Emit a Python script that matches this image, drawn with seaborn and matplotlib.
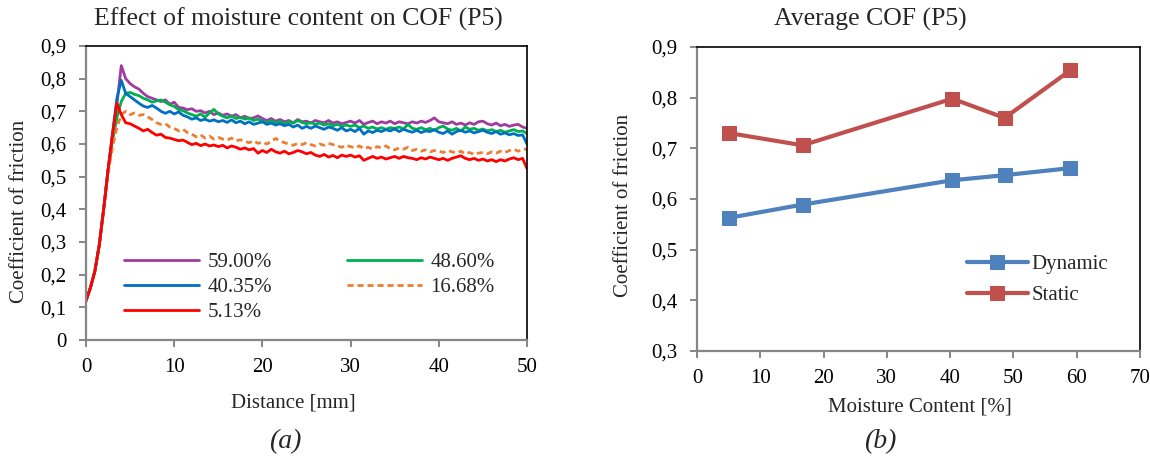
import numpy as np
import pandas as pd
import matplotlib
matplotlib.use("Agg")
import matplotlib.pyplot as plt
import seaborn as sns
from matplotlib.ticker import FixedLocator, FuncFormatter

# ---------------- data ----------------
distance = [i * 0.5 for i in range(101)]  # mm, 0 .. 50

mc_590 = [0.12, 0.16, 0.21, 0.29, 0.40, 0.52, 0.62, 0.72, 0.84, 0.80,
          0.785, 0.775, 0.768, 0.755, 0.745, 0.740, 0.735, 0.730, 0.735, 0.722,
          0.728, 0.712, 0.710, 0.705, 0.708, 0.700, 0.702, 0.695, 0.700, 0.690,
          0.695, 0.688, 0.692, 0.685, 0.690, 0.680, 0.685, 0.678, 0.680, 0.686,
          0.678, 0.672, 0.678, 0.670, 0.675, 0.668, 0.672, 0.665, 0.675, 0.668,
          0.670, 0.664, 0.672, 0.668, 0.665, 0.672, 0.664, 0.668, 0.662, 0.666,
          0.670, 0.664, 0.672, 0.660, 0.666, 0.670, 0.662, 0.668, 0.664, 0.670,
          0.662, 0.668, 0.665, 0.662, 0.668, 0.664, 0.670, 0.666, 0.672, 0.680,
          0.668, 0.665, 0.662, 0.668, 0.660, 0.664, 0.658, 0.665, 0.660, 0.668,
          0.670, 0.662, 0.658, 0.664, 0.656, 0.660, 0.654, 0.658, 0.660, 0.652,
          0.648]

mc_486 = [0.12, 0.16, 0.21, 0.29, 0.40, 0.52, 0.61, 0.68, 0.73, 0.755,
          0.758, 0.752, 0.748, 0.740, 0.735, 0.728, 0.732, 0.735, 0.728, 0.720,
          0.715, 0.705, 0.702, 0.695, 0.690, 0.685, 0.692, 0.682, 0.695, 0.706,
          0.692, 0.685, 0.680, 0.686, 0.678, 0.682, 0.676, 0.680, 0.672, 0.676,
          0.670, 0.666, 0.672, 0.664, 0.670, 0.662, 0.668, 0.664, 0.672, 0.666,
          0.662, 0.666, 0.660, 0.664, 0.658, 0.662, 0.656, 0.660, 0.655, 0.658,
          0.654, 0.658, 0.650, 0.655, 0.648, 0.652, 0.646, 0.650, 0.645, 0.650,
          0.648, 0.652, 0.646, 0.660, 0.648, 0.645, 0.650, 0.644, 0.648, 0.642,
          0.650, 0.655, 0.646, 0.642, 0.648, 0.640, 0.652, 0.645, 0.648, 0.642,
          0.646, 0.640, 0.644, 0.638, 0.642, 0.636, 0.640, 0.644, 0.638, 0.640,
          0.632]

mc_4035 = [0.12, 0.16, 0.21, 0.29, 0.40, 0.52, 0.63, 0.74, 0.795, 0.755,
           0.745, 0.735, 0.725, 0.716, 0.712, 0.718, 0.710, 0.700, 0.694, 0.700,
           0.692, 0.698, 0.688, 0.683, 0.676, 0.680, 0.672, 0.676, 0.670, 0.674,
           0.668, 0.672, 0.666, 0.674, 0.665, 0.670, 0.662, 0.668, 0.660, 0.664,
           0.668, 0.660, 0.664, 0.658, 0.662, 0.656, 0.660, 0.652, 0.658, 0.648,
           0.654, 0.648, 0.655, 0.650, 0.645, 0.652, 0.648, 0.642, 0.650, 0.640,
           0.645, 0.638, 0.648, 0.630, 0.640, 0.635, 0.642, 0.638, 0.644, 0.640,
           0.646, 0.638, 0.645, 0.640, 0.636, 0.642, 0.635, 0.640, 0.638, 0.644,
           0.636, 0.632, 0.640, 0.630, 0.638, 0.642, 0.636, 0.640, 0.634, 0.638,
           0.642, 0.636, 0.632, 0.638, 0.630, 0.634, 0.628, 0.632, 0.626, 0.628,
           0.600]

mc_1668 = [0.12, 0.16, 0.21, 0.29, 0.40, 0.51, 0.59, 0.65, 0.69, 0.700,
           0.690, 0.695, 0.688, 0.690, 0.683, 0.675, 0.665, 0.660, 0.662, 0.652,
           0.648, 0.640, 0.645, 0.635, 0.630, 0.622, 0.628, 0.618, 0.624, 0.615,
           0.620, 0.615, 0.612, 0.618, 0.610, 0.613, 0.608, 0.604, 0.610, 0.602,
           0.606, 0.600, 0.608, 0.617, 0.610, 0.604, 0.600, 0.596, 0.602, 0.598,
           0.604, 0.598, 0.594, 0.600, 0.596, 0.602, 0.598, 0.594, 0.590, 0.596,
           0.592, 0.588, 0.594, 0.586, 0.590, 0.584, 0.592, 0.588, 0.594, 0.586,
           0.582, 0.588, 0.584, 0.590, 0.580, 0.584, 0.578, 0.582, 0.576, 0.580,
           0.578, 0.574, 0.580, 0.576, 0.572, 0.578, 0.570, 0.574, 0.568, 0.572,
           0.574, 0.570, 0.576, 0.572, 0.578, 0.574, 0.580, 0.584, 0.578, 0.582,
           0.585]

mc_513 = [0.12, 0.16, 0.21, 0.29, 0.40, 0.52, 0.63, 0.725, 0.690, 0.665,
          0.662, 0.655, 0.648, 0.640, 0.645, 0.635, 0.627, 0.630, 0.620, 0.618,
          0.614, 0.610, 0.612, 0.605, 0.598, 0.602, 0.595, 0.600, 0.594, 0.597,
          0.592, 0.596, 0.588, 0.594, 0.590, 0.584, 0.588, 0.582, 0.586, 0.572,
          0.580, 0.574, 0.584, 0.576, 0.572, 0.578, 0.570, 0.574, 0.580, 0.576,
          0.570, 0.574, 0.566, 0.562, 0.568, 0.560, 0.565, 0.558, 0.566, 0.562,
          0.566, 0.560, 0.564, 0.550, 0.556, 0.562, 0.556, 0.560, 0.554, 0.558,
          0.562, 0.556, 0.562, 0.558, 0.556, 0.552, 0.558, 0.554, 0.560, 0.556,
          0.552, 0.556, 0.550, 0.556, 0.560, 0.564, 0.556, 0.552, 0.556, 0.550,
          0.554, 0.548, 0.552, 0.546, 0.552, 0.548, 0.554, 0.558, 0.552, 0.556,
          0.525]

series_labels = ["59.00%", "48.60%", "40.35%", "16.68%", "5.13%"]

moisture = [5.13, 16.68, 40.35, 48.60, 59.00]
cof_dynamic = [0.563, 0.589, 0.637, 0.647, 0.661]
cof_static = [0.730, 0.706, 0.798, 0.760, 0.854]

left_yticks = [0, 0.1, 0.2, 0.3, 0.4, 0.5, 0.6, 0.7, 0.8, 0.9]
left_xticks = [0, 10, 20, 30, 40, 50]
right_yticks = [0.3, 0.4, 0.5, 0.6, 0.7, 0.8, 0.9]
right_xticks = [0, 10, 20, 30, 40, 50, 60, 70]

# ---------------- style ----------------
sns.set_theme(style="white")
plt.rcParams["font.family"] = ["Liberation Serif", "DejaVu Serif"]

GRAY = "#868686"
W, H = 1150, 461
fig = plt.figure(figsize=(W / 100, H / 100), dpi=100)
fig.patch.set_facecolor("white")


def comma_fmt(v, pos):
    if abs(v) < 1e-9:
        return "0"
    return f"{v:.1f}".replace(".", ",")


def style_axes(ax):
    for s in ("left", "bottom"):
        ax.spines[s].set_color(GRAY)
        ax.spines[s].set_linewidth(1.6)
    for s in ("top", "right"):
        ax.spines[s].set_color("black")
        ax.spines[s].set_linewidth(1.2)
        ax.spines[s].set_visible(True)
    ax.tick_params(axis="both", which="major", direction="out", length=5,
                   width=1.4, color=GRAY, labelsize=15, labelcolor="black")
    ax.tick_params(axis="x", bottom=True, pad=8)
    ax.tick_params(axis="y", left=True, pad=9)
    ax.yaxis.set_major_formatter(FuncFormatter(comma_fmt))
    ax.grid(False)


# ---------------- left panel ----------------
axL = fig.add_axes([86 / W, 1 - 340 / H, (527 - 86) / W, (340 - 46) / H])
left_series = [mc_590, mc_486, mc_4035, mc_1668, mc_513]
left_colors = ["#A03B9F", "#00B050", "#0070C0", "#ED7D31", "#FF0000"]
left_styles = ["-", "-", "-", (0, (2.2, 1.4)), "-"]
for vals, lab, col, ls in zip(left_series, series_labels, left_colors, left_styles):
    sns.lineplot(x=distance, y=vals, ax=axL, color=col, linewidth=2.0,
                 linestyle=ls, label=lab, sort=False)
axL.set_xlim(0, 50)
axL.set_ylim(0, 0.9)
axL.xaxis.set_major_locator(FixedLocator(left_xticks))
axL.yaxis.set_major_locator(FixedLocator(left_yticks))
style_axes(axL)
axL.set_xlabel("")
axL.set_ylabel("")
h, l = axL.get_legend_handles_labels()
order = [0, 2, 4, 1, 3]
axL.legend([h[i] for i in order], [l[i] for i in order], ncol=2,
           loc="upper left", bbox_to_anchor=(0.086, 0.298), frameon=False,
           fontsize=15, handlelength=3.6, handletextpad=0.4,
           columnspacing=3.6, labelspacing=0.26, borderaxespad=0, borderpad=0)

# ---------------- right panel ----------------
axR = fig.add_axes([697 / W, 1 - 351 / H, (1140 - 697) / W, (351 - 47) / H])
sns.lineplot(x=moisture, y=cof_dynamic, ax=axR, color="#4F81BD", linewidth=3.0,
             marker="s", markersize=9.5, markeredgecolor="#4F81BD",
             label="Dynamic", sort=False)
sns.lineplot(x=moisture, y=cof_static, ax=axR, color="#C0504D", linewidth=3.0,
             marker="s", markersize=9.5, markeredgecolor="#C0504D",
             label="Static", sort=False)
axR.set_xlim(0, 70)
axR.set_ylim(0.3, 0.9)
axR.xaxis.set_major_locator(FixedLocator(right_xticks))
axR.yaxis.set_major_locator(FixedLocator(right_yticks))
style_axes(axR)
axR.set_xlabel("")
axR.set_ylabel("")
axR.legend(loc="upper left", bbox_to_anchor=(0.61, 0.318), frameon=False,
           fontsize=15, handlelength=2.9, handletextpad=0.2,
           labelspacing=0.55, borderaxespad=0, borderpad=0)

# ---------------- texts ----------------
fig.text(298 / W, 1 - 19 / H, "Effect of moisture content on COF (P5)",
         ha="center", va="center", fontsize=18.5)
fig.text(870 / W, 1 - 19 / H, "Average COF (P5)",
         ha="center", va="center", fontsize=18.5)
fig.text(293 / W, 1 - 403 / H, "Distance [mm]", ha="center", va="center",
         fontsize=15)
fig.text(920 / W, 1 - 407 / H, "Moisture Content [%]", ha="center",
         va="center", fontsize=15)
fig.text(20 / W, 1 - 211 / H, "Coefficient of friction", ha="center",
         va="center", rotation=90, fontsize=15)
fig.text(623 / W, 1 - 205 / H, "Coefficient of friction", ha="center",
         va="center", rotation=90, fontsize=15)
fig.text(285 / W, 1 - 442 / H, "(a)", ha="center", va="center",
         fontsize=20, style="italic")
fig.text(880 / W, 1 - 442 / H, "(b)", ha="center", va="center",
         fontsize=20, style="italic")

fig.savefig("out.png", dpi=100, facecolor="white")
